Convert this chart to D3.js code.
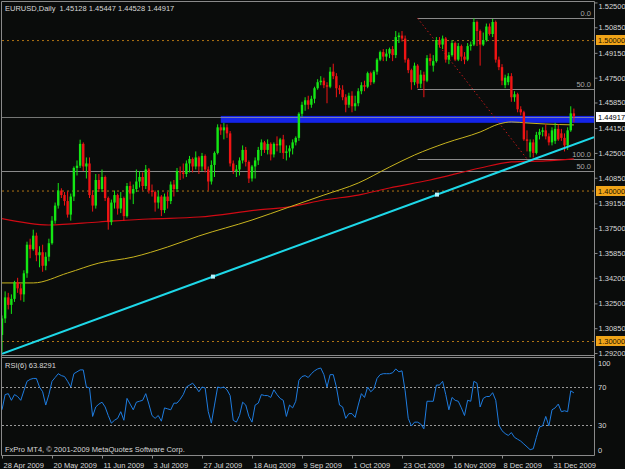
<!DOCTYPE html>
<html>
<head>
<meta charset="utf-8">
<script src="https://cdn.jsdelivr.net/npm/d3@7"></script>
<style>
  body { margin: 0; background: #0a0c0b; }
  svg { display: block; }
  text { font-family: "Liberation Sans", Arial, sans-serif; font-size: 7.5px; white-space: pre; }
</style>
</head>
<body>
<div id="chart"></div>
<script>
// EURUSD daily bars, 28 Apr 2009 - 12 Jan 2010
const dates = [
  "2009-04-28","2009-04-29","2009-04-30",
  "2009-05-01","2009-05-04","2009-05-05","2009-05-06","2009-05-07","2009-05-08","2009-05-11","2009-05-12","2009-05-13","2009-05-14","2009-05-15","2009-05-18","2009-05-19","2009-05-20","2009-05-21","2009-05-22","2009-05-25","2009-05-26","2009-05-27","2009-05-28","2009-05-29",
  "2009-06-01","2009-06-02","2009-06-03","2009-06-04","2009-06-05","2009-06-08","2009-06-09","2009-06-10","2009-06-11","2009-06-12","2009-06-15","2009-06-16","2009-06-17","2009-06-18","2009-06-19","2009-06-22","2009-06-23","2009-06-24","2009-06-25","2009-06-26","2009-06-29","2009-06-30",
  "2009-07-01","2009-07-02","2009-07-03","2009-07-06","2009-07-07","2009-07-08","2009-07-09","2009-07-10","2009-07-13","2009-07-14","2009-07-15","2009-07-16","2009-07-17","2009-07-20","2009-07-21","2009-07-22","2009-07-23","2009-07-24","2009-07-27","2009-07-28","2009-07-29","2009-07-30","2009-07-31",
  "2009-08-03","2009-08-04","2009-08-05","2009-08-06","2009-08-07","2009-08-10","2009-08-11","2009-08-12","2009-08-13","2009-08-14","2009-08-17","2009-08-18","2009-08-19","2009-08-20","2009-08-21","2009-08-24","2009-08-25","2009-08-26","2009-08-27","2009-08-28","2009-08-31",
  "2009-09-01","2009-09-02","2009-09-03","2009-09-04","2009-09-07","2009-09-08","2009-09-09","2009-09-10","2009-09-11","2009-09-14","2009-09-15","2009-09-16","2009-09-17","2009-09-18","2009-09-21","2009-09-22","2009-09-23","2009-09-24","2009-09-25","2009-09-28","2009-09-29","2009-09-30",
  "2009-10-01","2009-10-02","2009-10-05","2009-10-06","2009-10-07","2009-10-08","2009-10-09","2009-10-12","2009-10-13","2009-10-14","2009-10-15","2009-10-16","2009-10-19","2009-10-20","2009-10-21","2009-10-22","2009-10-23","2009-10-26","2009-10-27","2009-10-28","2009-10-29","2009-10-30",
  "2009-11-02","2009-11-03","2009-11-04","2009-11-05","2009-11-06","2009-11-09","2009-11-10","2009-11-11","2009-11-12","2009-11-13","2009-11-16","2009-11-17","2009-11-18","2009-11-19","2009-11-20","2009-11-23","2009-11-24","2009-11-25","2009-11-26","2009-11-27","2009-11-30",
  "2009-12-01","2009-12-02","2009-12-03","2009-12-04","2009-12-07","2009-12-08","2009-12-09","2009-12-10","2009-12-11","2009-12-14","2009-12-15","2009-12-16","2009-12-17","2009-12-18","2009-12-21","2009-12-22","2009-12-23","2009-12-24","2009-12-28","2009-12-29","2009-12-30","2009-12-31",
  "2010-01-04","2010-01-05","2010-01-06","2010-01-07","2010-01-08","2010-01-11","2010-01-12"
];

const open = [
  1.3040,1.3150,1.3290,1.3240,1.3280,1.3390,1.3350,1.3310,1.3450,1.3640,
  1.3610,1.3700,1.3570,1.3590,1.3500,1.3560,1.3650,1.3800,1.3900,1.4000,
  1.3970,1.3930,1.3840,1.3960,1.4150,1.4165,1.4310,1.4160,1.4180,1.3970,
  1.3900,1.4070,1.4010,1.4090,1.3950,1.3790,1.3920,1.3970,1.3880,1.3950,
  1.3830,1.4030,1.3980,1.4010,1.4060,1.4090,1.4030,1.4140,1.4000,1.3990,
  1.3920,1.3960,1.3870,1.3960,1.3930,1.4040,1.4010,1.4130,1.4120,1.4110,
  1.4180,1.4210,1.4160,1.4220,1.4160,1.4230,1.4140,1.4060,1.4170,1.4250,
  1.4420,1.4400,1.4420,1.4380,1.4180,1.4130,1.4140,1.4200,1.4270,1.4190,
  1.4080,1.4160,1.4200,1.4270,1.4320,1.4270,1.4310,1.4240,1.4310,1.4300,
  1.4340,1.4250,1.4260,1.4280,1.4320,1.4350,1.4510,1.4570,1.4600,1.4570,
  1.4610,1.4680,1.4720,1.4730,1.4700,1.4690,1.4790,1.4760,1.4680,1.4670,
  1.4620,1.4570,1.4630,1.4560,1.4580,1.4660,1.4700,1.4690,1.4780,1.4720,
  1.4790,1.4870,1.4920,1.4890,1.4910,1.4940,1.4900,1.5020,1.5030,1.5010,
  1.4870,1.4800,1.4720,1.4830,1.4710,1.4770,1.4730,1.4880,1.4830,1.4860,
  1.5000,1.4970,1.5010,1.4870,1.4900,1.4980,1.4870,1.4960,1.4890,1.4870,
  1.4960,1.4970,1.5120,1.5060,1.4970,1.5000,1.5090,1.5040,1.5120,1.4870,
  1.4820,1.4700,1.4720,1.4760,1.4620,1.4640,1.4540,1.4520,1.4340,1.4260,
  1.4320,1.4250,1.4370,1.4390,1.4400,1.4360,1.4320,1.4330,1.4410,1.4380,
  1.4350,1.4300,1.4400,1.45128
];
const high = [
  1.3170,1.3330,1.3320,1.3310,1.3400,1.3420,1.3380,1.3470,1.3660,1.3680,
  1.3740,1.3720,1.3630,1.3640,1.3590,1.3680,1.3830,1.3920,1.4050,1.4015,
  1.3990,1.3995,1.3980,1.4160,1.4200,1.4338,1.4320,1.4220,1.4220,1.4000,
  1.4110,1.4110,1.4140,1.4100,1.3960,1.3940,1.4000,1.3980,1.3990,1.3960,
  1.4050,1.4060,1.4040,1.4140,1.4130,1.4120,1.4170,1.4150,1.4040,1.4000,
  1.4000,1.3970,1.3980,1.3990,1.4060,1.4070,1.4150,1.4160,1.4180,1.4200,
  1.4230,1.4220,1.4260,1.4230,1.4250,1.4240,1.4160,1.4200,1.4260,1.4440,
  1.4440,1.4450,1.4440,1.4395,1.4200,1.4170,1.4220,1.4300,1.4290,1.4200,
  1.4170,1.4220,1.4290,1.4340,1.4330,1.4340,1.4320,1.4320,1.4360,1.4350,
  1.4370,1.4300,1.4300,1.4340,1.4360,1.4520,1.4590,1.4620,1.4630,1.4630,
  1.4690,1.4740,1.4760,1.4750,1.4720,1.4820,1.4843,1.4780,1.4700,1.4700,
  1.4640,1.4650,1.4660,1.4630,1.4680,1.4720,1.4730,1.4790,1.4790,1.4800,
  1.4880,1.4930,1.4940,1.4940,1.4950,1.4960,1.5060,1.5050,1.5060,1.5030,
  1.4880,1.4810,1.4850,1.4840,1.4800,1.4790,1.4900,1.4910,1.4900,1.5020,
  1.5020,1.5030,1.5020,1.4920,1.5000,1.4990,1.4980,1.4970,1.4920,1.4980,
  1.4990,1.5144,1.5130,1.5070,1.5050,1.5110,1.5110,1.5140,1.5130,1.4890,
  1.4840,1.4770,1.4780,1.4780,1.4660,1.4650,1.4560,1.4530,1.4400,1.4340,
  1.4340,1.4390,1.4410,1.4420,1.4440,1.4380,1.4420,1.4450,1.4440,1.4410,
  1.4380,1.4420,1.4560,1.45447
];
const low = [
  1.2925,1.3120,1.3210,1.3180,1.3260,1.3320,1.3270,1.3260,1.3420,1.3550,
  1.3600,1.3530,1.3490,1.3460,1.3470,1.3530,1.3640,1.3780,1.3880,1.3950,
  1.3900,1.3820,1.3800,1.3930,1.4100,1.4150,1.4130,1.4080,1.3950,1.3860,
  1.3880,1.3990,1.3990,1.3930,1.3740,1.3770,1.3880,1.3840,1.3850,1.3800,
  1.3820,1.3940,1.3910,1.3990,1.4020,1.4000,1.4010,1.3980,1.3960,1.3860,
  1.3880,1.3830,1.3850,1.3880,1.3910,1.3960,1.3990,1.4070,1.4080,1.4090,
  1.4120,1.4120,1.4140,1.4110,1.4130,1.4120,1.4000,1.4040,1.4090,1.4240,
  1.4370,1.4340,1.4350,1.4160,1.4110,1.4090,1.4100,1.4180,1.4160,1.4050,
  1.4060,1.4080,1.4170,1.4230,1.4250,1.4240,1.4200,1.4220,1.4260,1.4250,
  1.4210,1.4200,1.4220,1.4240,1.4300,1.4330,1.4490,1.4530,1.4540,1.4550,
  1.4580,1.4670,1.4700,1.4680,1.4580,1.4680,1.4740,1.4620,1.4640,1.4600,
  1.4520,1.4550,1.4520,1.4530,1.4560,1.4640,1.4660,1.4680,1.4700,1.4710,
  1.4770,1.4860,1.4860,1.4860,1.4880,1.4860,1.4880,1.4980,1.4990,1.4850,
  1.4780,1.4670,1.4700,1.4680,1.4680,1.4620,1.4720,1.4830,1.4790,1.4850,
  1.4950,1.4940,1.4850,1.4840,1.4890,1.4860,1.4860,1.4860,1.4840,1.4860,
  1.4930,1.4960,1.4960,1.4830,1.4960,1.4990,1.5030,1.5020,1.4850,1.4800,
  1.4700,1.4680,1.4700,1.4590,1.4590,1.4520,1.4500,1.4330,1.4260,1.4220,
  1.4220,1.4240,1.4340,1.4360,1.4340,1.4300,1.4300,1.4310,1.4330,1.4330,
  1.4260,1.4270,1.4390,1.44528
];
const close = [
  1.3150,1.3290,1.3240,1.3280,1.3390,1.3350,1.3310,1.3450,1.3640,1.3610,
  1.3700,1.3570,1.3590,1.3500,1.3560,1.3650,1.3800,1.3900,1.4000,1.3970,
  1.3930,1.3840,1.3960,1.4150,1.4165,1.4310,1.4160,1.4180,1.3970,1.3900,
  1.4070,1.4010,1.4090,1.3950,1.3790,1.3920,1.3970,1.3880,1.3950,1.3830,
  1.4030,1.3980,1.4010,1.4060,1.4090,1.4030,1.4140,1.4000,1.3990,1.3920,
  1.3960,1.3870,1.3960,1.3930,1.4040,1.4010,1.4130,1.4120,1.4110,1.4180,
  1.4210,1.4160,1.4220,1.4160,1.4230,1.4140,1.4060,1.4170,1.4250,1.4420,
  1.4400,1.4420,1.4380,1.4180,1.4130,1.4140,1.4200,1.4270,1.4190,1.4080,
  1.4160,1.4200,1.4270,1.4320,1.4270,1.4310,1.4240,1.4310,1.4300,1.4340,
  1.4250,1.4260,1.4280,1.4320,1.4350,1.4510,1.4570,1.4600,1.4570,1.4610,
  1.4680,1.4720,1.4730,1.4700,1.4690,1.4790,1.4760,1.4680,1.4670,1.4620,
  1.4570,1.4630,1.4560,1.4580,1.4660,1.4700,1.4690,1.4780,1.4720,1.4790,
  1.4870,1.4920,1.4890,1.4910,1.4940,1.4900,1.5020,1.5030,1.5010,1.4870,
  1.4800,1.4720,1.4830,1.4710,1.4770,1.4730,1.4880,1.4860,1.4860,1.5000,
  1.4970,1.5010,1.4870,1.4900,1.4980,1.4870,1.4960,1.4890,1.4870,1.4960,
  1.4970,1.5120,1.5060,1.4970,1.5000,1.5090,1.5040,1.5120,1.4870,1.4820,
  1.4730,1.4750,1.4760,1.4620,1.4640,1.4540,1.4520,1.4340,1.4330,1.4320,
  1.4250,1.4370,1.4390,1.4400,1.4360,1.4320,1.4400,1.4410,1.4340,1.4350,
  1.4300,1.4400,1.4513,1.44917
];

// RSI(6), one value per bar
const rsi = [
  46,62,63,56,62,60,56,66,76,78, 79,79,70,65,51,62,76,80,84,82,
  81,76,70,84,86,88,88,70,69,39, 49,52,54,49,40,32,35,37,44,35,
  58,52,46,54,55,56,63,52,40,37, 40,34,48,47,46,53,53,57,62,70,
  72,74,70,65,70,69,44,32,51,70, 69,70,67,61,35,33,40,54,51,39,
  33,51,53,62,61,61,59,67,62,58, 56,39,51,48,55,77,81,82,80,84,
  87,89,90,83,70,83,83,70,51,49, 37,42,42,38,51,63,59,70,65,68,
  79,83,84,84,84,85,89,86,87,66, 37,29,33,33,31,26,55,55,55,72,
  72,76,62,46,59,56,55,48,40,56, 55,76,74,49,58,60,60,64,56,30,
  24,21,19,22,17,15,13,10,7,4, 5,17,28,29,39,29,46,48,52,44,
  45,44,66,63.8291
];

// moving averages at sample bars
const maSlowIdx = [0,10,21,31,42,53,63,80,92,103,114,124,132,142,153,159,163,168,174,183];
const maSlow = [1.3386,1.3386,1.3452,1.3518,1.3558,1.3625,1.3698,1.3804,1.3891,1.3970,1.4050,1.4156,1.4236,1.4316,1.4389,1.4442,1.4456,1.4449,1.4442,1.4436];
const maLongIdx = [0,15,31,47,63,82,92,103,114,124,137,153,163,174,183];
const maLong = [1.3813,1.3771,1.3791,1.3811,1.3824,1.3871,1.3891,1.3937,1.3970,1.4017,1.4070,1.4150,1.4190,1.4197,1.4210];

const priceTicks = [1.525,1.5085,1.4915,1.475,1.4585,1.4415,1.425,1.4085,1.3915,1.375,1.3585,1.342,1.325,1.3085,1.292];
const roundLevels = [1.5, 1.4, 1.3];
const bid = 1.44917;
const tickDates = ["2009-04-28","2009-05-20","2009-06-11","2009-07-03","2009-07-27","2009-08-18","2009-09-09","2009-10-01","2009-10-23","2009-11-16","2009-12-08","2009-12-31"];
const rsiLevels = [70, 30];
const rsiLabels = [100, 70, 30, 0];

// drawn objects
const trendPts = [[67.5, 1.3428], [139.2, 1.3973]];
const zone = {from: 70, top: 1.4496, bottom: 1.4450};
const fibo = {from: 133, to: 168, high: 1.5145, low: 1.4210, levels: [0, 50, 100]};
const fibo2 = {level: 50, price: 1.4132};

const W = 625, H = 469, right = 594;
const green = '#14e614', red = '#f01414', grid = '#8a8a8a', fg = '#d8d8d8';

const svg = d3.select('#chart').append('svg').attr('width', W).attr('height', H);
svg.append('rect').attr('width', W).attr('height', H).attr('fill', '#0a0c0b');

const x = d3.scaleLinear().domain([0, dates.length - 1]).range([2, 2 + (dates.length - 1) * 3.125]);
const y = d3.scaleLinear().domain([1.2907, 1.5253]).range([355, 2]);
const yR = d3.scaleLinear().domain([0, 100]).range([453.5, 358.5]);

const defs = svg.append('defs');
defs.append('clipPath').attr('id', 'pclip').append('rect')
  .attr('x', 2).attr('y', 2).attr('width', right - 2).attr('height', 353);
defs.append('clipPath').attr('id', 'rclip').append('rect')
  .attr('x', 2).attr('y', 357).attr('width', right - 2).attr('height', 98);

const g = svg.append('g').attr('clip-path', 'url(#pclip)');

// support zone
g.append('rect')
  .attr('x', x(zone.from)).attr('y', y(zone.top))
  .attr('width', right - x(zone.from)).attr('height', y(zone.bottom) - y(zone.top))
  .attr('fill', '#1424e8');

// round levels
g.selectAll('.round').data(roundLevels).enter().append('line')
  .attr('x1', 2).attr('x2', right)
  .attr('y1', d => y(d) + 0.5).attr('y2', d => y(d) + 0.5)
  .attr('stroke', '#b07414').attr('stroke-dasharray', '2,3');

// fibo levels
const fp = l => fibo.high - (fibo.high - fibo.low) * l / 100;
g.selectAll('.fib').data(fibo.levels).enter().append('line')
  .attr('x1', x(fibo.from)).attr('x2', right)
  .attr('y1', d => Math.round(y(fp(d))) + 0.5).attr('y2', d => Math.round(y(fp(d))) + 0.5)
  .attr('stroke', grid);
g.append('line')
  .attr('x1', 2).attr('x2', right)
  .attr('y1', Math.round(y(fibo2.price)) + 0.5).attr('y2', Math.round(y(fibo2.price)) + 0.5)
  .attr('stroke', grid);
g.append('line')
  .attr('x1', x(fibo.from)).attr('y1', y(fibo.high))
  .attr('x2', x(fibo.to)).attr('y2', y(fibo.low))
  .attr('stroke', '#c01818').attr('stroke-dasharray', '1.5,2.5');

// bid line
g.append('line')
  .attr('x1', 2).attr('x2', right)
  .attr('y1', Math.round(y(bid)) + 0.5).attr('y2', Math.round(y(bid)) + 0.5)
  .attr('stroke', '#9a9a9a').attr('stroke-opacity', 0.75);

// moving averages
const maLine = d3.line().x(d => x(d[0])).y(d => y(d[1])).curve(d3.curveMonotoneX);
g.append('path').datum(maLongIdx.map((d, i) => [d, maLong[i]]))
  .attr('d', maLine).attr('fill', 'none').attr('stroke', '#d00a14').attr('stroke-width', 1.2);
g.append('path').datum(maSlowIdx.map((d, i) => [d, maSlow[i]]))
  .attr('d', maLine).attr('fill', 'none').attr('stroke', '#c8b41e').attr('stroke-width', 1);

// candles
const bars = g.selectAll('.bar').data(d3.range(dates.length)).enter().append('g');
bars.append('line')
  .attr('x1', i => x(i)).attr('x2', i => x(i))
  .attr('y1', i => y(high[i])).attr('y2', i => y(low[i]))
  .attr('stroke', i => close[i] >= open[i] ? green : red).attr('stroke-width', 1);
bars.append('rect')
  .attr('x', i => x(i) - 1.2).attr('width', 2.4)
  .attr('y', i => y(Math.max(open[i], close[i])))
  .attr('height', i => Math.max(1, Math.abs(y(open[i]) - y(close[i]))))
  .attr('fill', i => close[i] >= open[i] ? green : red);

// trend line, extended across the chart
const slope = (trendPts[1][1] - trendPts[0][1]) / (trendPts[1][0] - trendPts[0][0]);
const tAt = i => trendPts[0][1] + (i - trendPts[0][0]) * slope;
const iEnd = x.invert(right);
g.append('line')
  .attr('x1', x(0)).attr('y1', y(tAt(0)))
  .attr('x2', right).attr('y2', y(tAt(iEnd)))
  .attr('stroke', '#1ed8e8').attr('stroke-width', 2);
g.selectAll('.anchor').data(trendPts).enter().append('rect')
  .attr('x', d => x(d[0]) - 2).attr('y', d => y(d[1]) - 2)
  .attr('width', 4).attr('height', 4).attr('fill', '#b4f4ff');

// fibo labels
svg.selectAll('.fibl').data(fibo.levels).enter().append('text')
  .attr('x', right - 3).attr('y', d => Math.round(y(fp(d))) - 2)
  .attr('text-anchor', 'end').attr('fill', '#a8a8a8')
  .text(d => d.toFixed(1));
svg.append('text')
  .attr('x', right - 3).attr('y', Math.round(y(fibo2.price)) - 2)
  .attr('text-anchor', 'end').attr('fill', '#a8a8a8')
  .text(fibo2.level.toFixed(1));

// RSI panel
const r = svg.append('g').attr('clip-path', 'url(#rclip)');
r.selectAll('.lvl').data(rsiLevels).enter().append('line')
  .attr('x1', 2).attr('x2', right)
  .attr('y1', d => Math.round(yR(d)) + 0.5).attr('y2', d => Math.round(yR(d)) + 0.5)
  .attr('stroke', '#9a9a9a').attr('stroke-dasharray', '2,2');
r.append('path').datum(rsi)
  .attr('d', d3.line().x((d, i) => x(i)).y(d => yR(d)))
  .attr('fill', 'none').attr('stroke', '#1e7ce0').attr('stroke-width', 1);

// frames
const frame = svg.append('g').attr('stroke', grid).attr('fill', 'none');
frame.append('path').attr('d', `M1.5,1.5H${right + 0.5}V455.5H1.5Z`);
frame.append('line').attr('x1', 1.5).attr('x2', right + 0.5).attr('y1', 355.5).attr('y2', 355.5);
frame.append('line').attr('x1', 1.5).attr('x2', right + 0.5).attr('y1', 357.5).attr('y2', 357.5);

// price axis
const pAxis = svg.append('g').attr('transform', `translate(${right + 0.5},0)`)
  .call(d3.axisRight(y).tickValues(priceTicks).tickFormat(d3.format('.5f')).tickSize(3).tickPadding(1));
pAxis.select('.domain').remove();
pAxis.selectAll('line').attr('stroke', grid);
pAxis.selectAll('text').attr('fill', fg).style('font-size', '7.5px')
  .style('font-family', '"Liberation Sans", Arial, sans-serif');
// keep the top label inside the window
pAxis.selectAll('.tick').filter(d => y(d) < 6).select('text').attr('dy', '0.75em');

const tag = (val, bg, col) => {
  const yy = Math.round(y(val));
  svg.append('rect').attr('x', right + 2).attr('y', yy - 5).attr('width', W - right - 2).attr('height', 10).attr('fill', bg);
  svg.append('text').attr('x', right + 4).attr('y', yy + 3).attr('fill', col).text(val.toFixed(5));
};
roundLevels.forEach(v => tag(v, '#f0a418', '#1a1200'));
tag(bid, '#ffffff', '#000000');

// RSI axis
svg.selectAll('.rl').data(rsiLabels).enter().append('text')
  .attr('x', right + 4).attr('y', d => Math.min(453, Math.max(366, yR(d) + 3)))
  .attr('fill', fg).text(d => d);

// date axis
const parse = d3.timeParse('%Y-%m-%d'), fmt = d3.timeFormat('%-d %b %Y');
const dAxis = svg.append('g').attr('transform', 'translate(0,455.5)')
  .call(d3.axisBottom(x).tickValues(tickDates.map(d => dates.indexOf(d)))
    .tickFormat(i => fmt(parse(dates[i]))).tickSize(3).tickPadding(4));
dAxis.select('.domain').remove();
dAxis.selectAll('line').attr('stroke', grid);
dAxis.selectAll('text').attr('fill', fg).attr('text-anchor', 'start').attr('x', 1)
  .style('font-size', '7.5px').style('font-family', '"Liberation Sans", Arial, sans-serif');

// captions
const last = dates.length - 1;
svg.append('text').attr('x', 5).attr('y', 11).attr('fill', fg)
  .text(`EURUSD,Daily  ${open[last].toFixed(5)} ${high[last].toFixed(5)} ${low[last].toFixed(5)} ${close[last].toFixed(5)}`);
svg.append('text').attr('x', 5).attr('y', 368).attr('fill', fg)
  .text(`RSI(6) ${rsi[last].toFixed(4)}`);
svg.append('text').attr('x', 5).attr('y', 452).attr('fill', fg)
  .text('FxPro MT4, \u00a9 2001-2009 MetaQuotes Software Corp.');
</script>
</body>
</html>
